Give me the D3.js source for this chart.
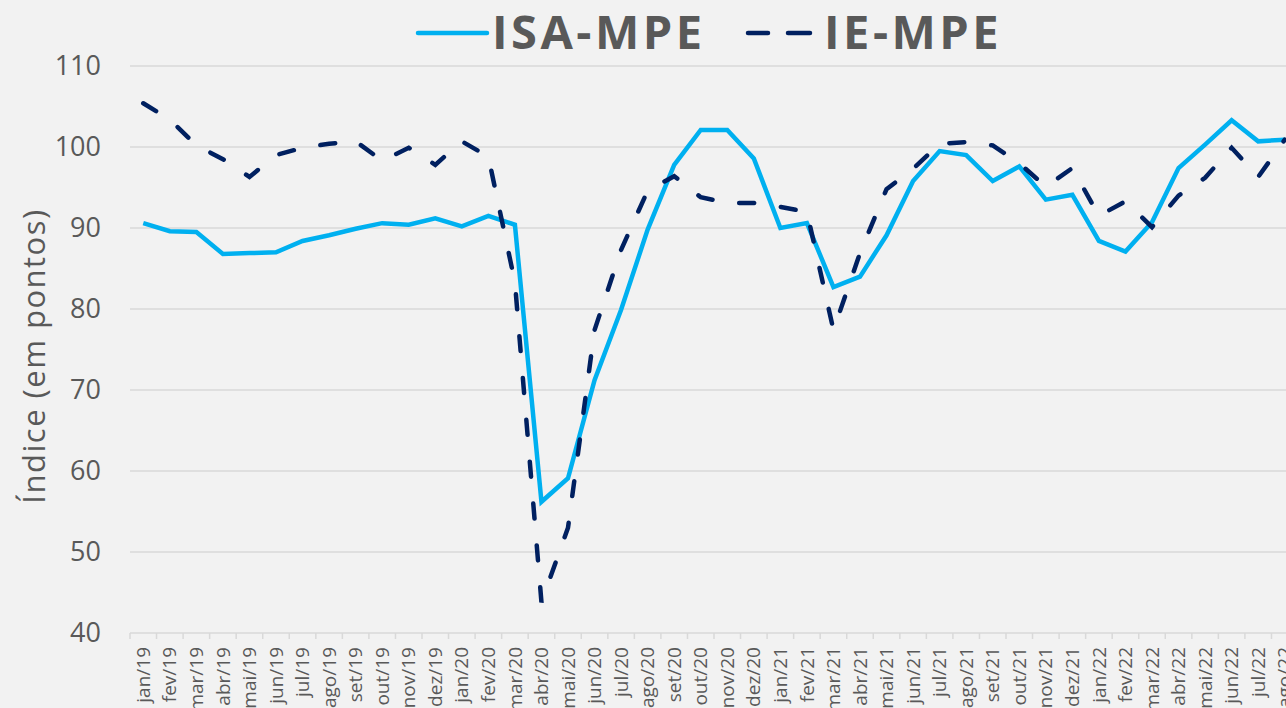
<!DOCTYPE html>
<html lang="pt">
<head>
    <meta charset="UTF-8">
    <title>ISA-MPE x IE-MPE</title>
    <script src="https://d3js.org/d3.v7.min.js"></script>
    <style>
        html, body {
            margin: 0;
            padding: 0;
            background: #f2f2f2;
            overflow: hidden;
        }
        svg {
            display: block;
            font-family: "Open Sans", "DejaVu Sans", sans-serif;
        }
        .grid line {
            stroke: #d9d9d9;
            stroke-width: 1.5;
        }
        .axis text {
            fill: #595959;
            font-family: "Open Sans", sans-serif;
        }
    </style>
</head>
<body>
    <svg id="chart"></svg>

    <script>
        var months = ["jan/19", "fev/19", "mar/19", "abr/19", "mai/19", "jun/19", "jul/19", "ago/19", "set/19", "out/19", "nov/19", "dez/19",
                      "jan/20", "fev/20", "mar/20", "abr/20", "mai/20", "jun/20", "jul/20", "ago/20", "set/20", "out/20", "nov/20", "dez/20",
                      "jan/21", "fev/21", "mar/21", "abr/21", "mai/21", "jun/21", "jul/21", "ago/21", "set/21", "out/21", "nov/21", "dez/21",
                      "jan/22", "fev/22", "mar/22", "abr/22", "mai/22", "jun/22", "jul/22", "ago/22"];

        // ISA-MPE (linha cheia)
        var isaMpe = [90.6, 89.6, 89.5, 86.8, 86.9, 87.0, 88.4, 89.1, 89.9, 90.6, 90.4, 91.2,
                      90.2, 91.5, 90.4, 56.2, 59.1, 71.2, 79.9, 89.8, 97.8, 102.1, 102.1, 98.6,
                      90.0, 90.6, 82.7, 84.0, 89.1, 95.8, 99.5, 99.0, 95.8, 97.6, 93.5, 94.1,
                      88.4, 87.1, 90.7, 97.4, 100.3, 103.3, 100.7, 100.9];

        // IE-MPE (tracejada)
        var ieMpe = [105.4, 103.4, 100.2, 98.5, 96.3, 99.0, 99.9, 100.4, 100.7, 98.3, 99.9, 97.8,
                     100.7, 98.8, 83.3, 43.8, 53.0, 77.4, 87.3, 94.6, 96.4, 93.8, 93.1, 93.1,
                     92.6, 92.0, 77.4, 86.9, 94.8, 97.3, 100.4, 100.6, 100.2, 98.0, 95.1, 97.4,
                     91.5, 93.3, 90.1, 94.0, 96.2, 99.9, 96.3, 100.9];

        var yTicks = [40, 50, 60, 70, 80, 90, 100, 110];

        var width = 1286, height = 708;
        var plot = {left: 130, right: 1298, top: 66, bottom: 633};

        var svg = d3.select("#chart")
            .attr("width", width)
            .attr("height", height);

        svg.append("rect")
            .attr("width", width)
            .attr("height", height)
            .attr("fill", "#f2f2f2");

        var x = d3.scaleBand().domain(months).range([plot.left, plot.right]).padding(0);
        var y = d3.scaleLinear().domain([40, 110]).range([plot.bottom, plot.top]);

        function cx(d) { return x(d) + x.bandwidth() / 2; }

        // linhas de grade
        svg.append("g")
            .attr("class", "grid")
            .selectAll("line")
            .data(yTicks)
            .enter().append("line")
            .attr("x1", plot.left)
            .attr("x2", width)
            .attr("y1", function(d) { return y(d); })
            .attr("y2", function(d) { return y(d); });

        // marcas do eixo x nos limites das categorias
        svg.append("g")
            .attr("class", "grid")
            .selectAll("line")
            .data(months)
            .enter().append("line")
            .attr("x1", function(d) { return x(d); })
            .attr("x2", function(d) { return x(d); })
            .attr("y1", plot.bottom)
            .attr("y2", plot.bottom + 6);

        // eixo y
        var yAxis = svg.append("g")
            .attr("class", "axis")
            .attr("transform", "translate(101,0)")
            .call(d3.axisLeft(y).tickValues(yTicks).tickSize(0).tickPadding(0));
        yAxis.select(".domain").remove();
        yAxis.selectAll("text")
            .style("font-size", "27px");

        // eixo x
        var xAxis = svg.append("g")
            .attr("class", "axis")
            .attr("transform", "translate(0," + plot.bottom + ")")
            .call(d3.axisBottom(x).tickSize(0));
        xAxis.select(".domain").remove();
        xAxis.selectAll("text")
            .attr("transform", "rotate(-90)")
            .attr("x", -14)
            .attr("y", 0)
            .attr("dy", "0.35em")
            .style("text-anchor", "end")
            .style("font-size", "19px");

        // título do eixo y
        svg.append("text")
            .attr("transform", "translate(45,356) rotate(-90)")
            .attr("text-anchor", "middle")
            .attr("fill", "#595959")
            .style("font-size", "31px")
            .style("letter-spacing", "1.5px")
            .text("Índice (em pontos)");

        var line = d3.line()
            .x(function(d, i) { return cx(months[i]); })
            .y(function(d) { return y(d); });

        svg.append("path")
            .datum(isaMpe)
            .attr("fill", "none")
            .attr("stroke", "#00b0f0")
            .attr("stroke-width", 4.5)
            .attr("stroke-linejoin", "miter")
            .attr("d", line);

        svg.append("path")
            .datum(ieMpe)
            .attr("fill", "none")
            .attr("stroke", "#002060")
            .attr("stroke-width", 4.5)
            .attr("stroke-linecap", "round")
            .attr("stroke-dasharray", "15,27")
            .attr("d", line);

        // legenda
        var legend = svg.append("g").attr("class", "legend");

        legend.append("line")
            .attr("x1", 418).attr("x2", 487)
            .attr("y1", 33).attr("y2", 33)
            .attr("stroke", "#00b0f0")
            .attr("stroke-width", 4.5)
            .attr("stroke-linecap", "round");

        legend.append("text")
            .attr("x", 492).attr("y", 49)
            .attr("fill", "#595959")
            .style("font-size", "47px")
            .style("font-weight", "bold")
            .style("letter-spacing", "3.5px")
            .text("ISA-MPE");

        [[748, 768], [788, 810]].forEach(function(s) {
            legend.append("line")
                .attr("x1", s[0]).attr("x2", s[1])
                .attr("y1", 33).attr("y2", 33)
                .attr("stroke", "#002060")
                .attr("stroke-width", 4.5)
                .attr("stroke-linecap", "round");
        });

        legend.append("text")
            .attr("x", 824).attr("y", 49)
            .attr("fill", "#595959")
            .style("font-size", "47px")
            .style("font-weight", "bold")
            .style("letter-spacing", "3.5px")
            .text("IE-MPE");
    </script>
</body>
</html>
